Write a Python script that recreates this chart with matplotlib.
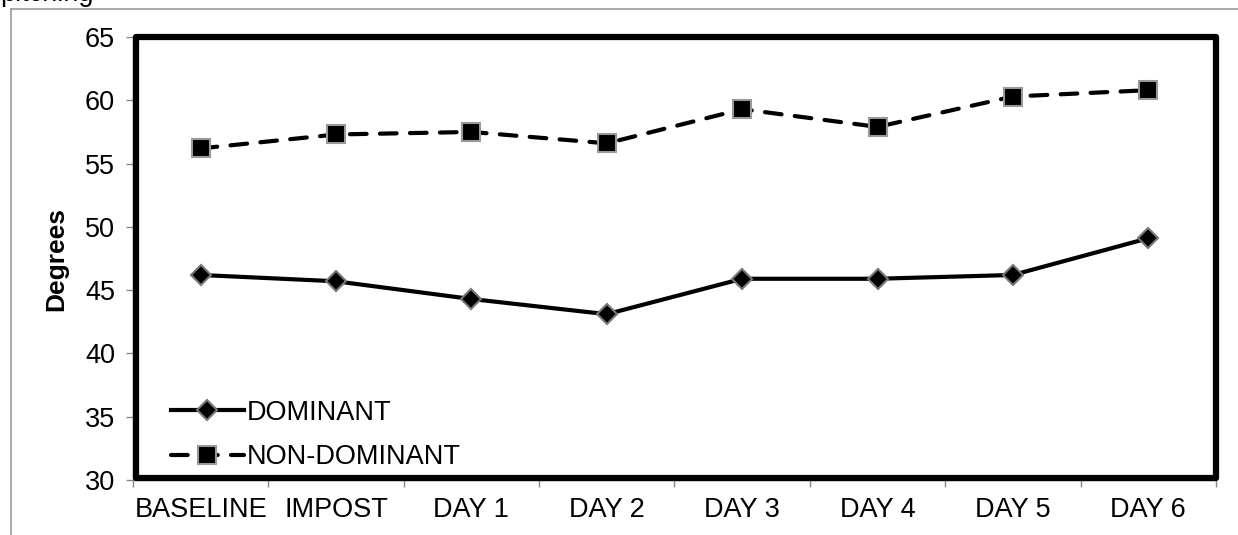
import matplotlib.pyplot as plt
from matplotlib.lines import Line2D
from matplotlib.patches import Rectangle

plt.rcParams['font.family'] = ['Liberation Sans', 'DejaVu Sans']

categories = ['BASELINE', 'IMPOST', 'DAY 1', 'DAY 2', 'DAY 3', 'DAY 4', 'DAY 5', 'DAY 6']
dominant = [46.2, 45.7, 44.3, 43.1, 45.9, 45.9, 46.2, 49.1]
non_dominant = [56.2, 57.3, 57.5, 56.6, 59.3, 57.9, 60.3, 60.8]

fig = plt.figure(figsize=(12.38, 5.35), dpi=100)
ax = fig.add_axes([0.1074, 0.1028, 0.8748, 0.828])

x = list(range(len(categories)))
ax.plot(x, dominant, color='black', lw=3, marker='D', ms=10,
        mfc='black', mec='#777777', mew=1.5, label='DOMINANT')
ax.plot(x, non_dominant, color='black', lw=3, ls=(0, (4, 3.2)), dash_capstyle='round',
        marker='s', ms=13, mfc='black', mec='#999999', mew=1.5, label='NON-DOMINANT')

ax.set_xlim(-0.5, len(categories) - 0.5)
ax.set_ylim(30, 65)
ax.set_yticks(range(30, 66, 5))
ax.set_xticks(x)
ax.set_xticklabels(categories)
ax.set_xticks([i - 0.5 for i in range(len(categories) + 1)], minor=True)
ax.tick_params(axis='x', which='major', length=0, labelsize=19.5, pad=12)
ax.tick_params(axis='x', which='minor', length=5, color='#888888', width=1)
ax.tick_params(axis='y', length=5, color='#888888', width=1, labelsize=19.5, pad=8)

for s in ['top', 'right']:
    ax.spines[s].set_visible(False)
for s in ['left', 'bottom']:
    ax.spines[s].set_color('#888888')
    ax.spines[s].set_linewidth(1)

# heavy frame around plotting area
ax.add_patch(Rectangle((0.003, 0.005), 0.997, 0.995, transform=ax.transAxes,
                       fill=False, lw=4.5, ec='black', joinstyle='round', clip_on=False, zorder=5))

ax.set_ylabel('Degrees', fontsize=19, fontweight='bold', labelpad=12)

ax.legend(loc='lower left', bbox_to_anchor=(0.015, -0.027), frameon=False, fontsize=19.5,
          handlelength=2.7, handletextpad=0.1, labelspacing=0.68, borderpad=0.3)

# outer chart frame
fig.add_artist(Line2D([11 / 1238, 1], [1 - 9 / 535, 1 - 9 / 535], color='#999999', lw=1.2))
fig.add_artist(Line2D([11 / 1238, 11 / 1238], [0, 1 - 9 / 535], color='#999999', lw=1.2))
fig.text(0.0, 1 - 1 / 535, 'pitching', fontsize=19.5, va='baseline', ha='left')

fig.savefig('out.png', dpi=100)
